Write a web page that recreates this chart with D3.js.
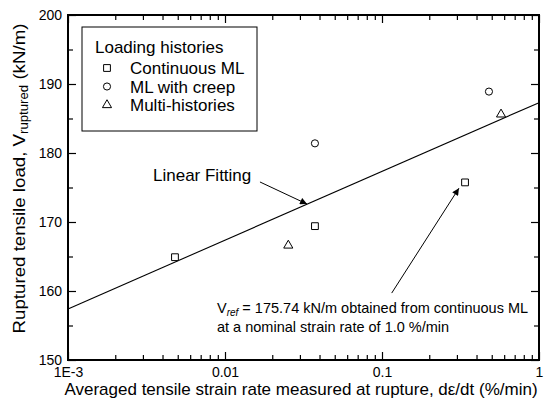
<!DOCTYPE html>
<html>
<head>
<meta charset="utf-8">
<script src="https://cdn.jsdelivr.net/npm/d3@7"></script>
<style>
  html, body { margin: 0; padding: 0; background: #fff; }
  svg { display: block; font-family: Arial, "Liberation Sans", Helvetica, sans-serif; }
</style>
</head>
<body>
<svg id="chart" width="544" height="412"></svg>
<script>
// Ruptured tensile load vs. averaged strain rate at rupture
const continuousRate = [0.0048, 0.0374, 0.338];
const continuousLoad = [164.9, 169.4, 175.74];
const creepRate = [0.0374, 0.48];
const creepLoad = [181.4, 188.9];
const multiRate = [0.0253, 0.573];
const multiLoad = [166.6, 185.6];

// straight-line fit (linear in log of rate)
const fitRate = [0.001, 1];
const fitLoad = [157.4, 187.3];

const xMajorTicks = [0.001, 0.01, 0.1, 1];
const xTickLabels = ["1E-3", "0.01", "0.1", "1"];
const yMajorTicks = [150, 160, 170, 180, 190, 200];
const yMinorTicks = [155, 165, 175, 185, 195];

const legendTitle = "Loading histories";
const legendLabels = ["Continuous ML", "ML with creep", "Multi-histories"];

const W = 544, H = 412;
const margin = { left: 68, right: 5, top: 15, bottom: 52 };

const svg = d3.select("#chart");

const x = d3.scaleLog().domain([0.001, 1]).range([margin.left, W - margin.right]);
const y = d3.scaleLinear().domain([150, 200]).range([H - margin.bottom, margin.top]);

// minor ticks of the log axis: 2..9 within each decade
const xMinorTicks = [];
for (let d = 0; d < 3; d++) {
  for (let m = 2; m <= 9; m++) xMinorTicks.push(m * Math.pow(10, -3 + d));
}

const major = 8, minor = 5;

function styleAxis(g) {
  g.select(".domain").remove();
  g.selectAll(".tick line").attr("stroke", "#000").attr("stroke-width", 1.2);
  g.selectAll(".tick text").attr("fill", "#000").style("font-size", "14px");
}

// bottom axis with labels
svg.append("g")
  .attr("transform", `translate(0,${y(150)})`)
  .call(d3.axisBottom(x).tickValues(xMajorTicks)
    .tickFormat((d, i) => xTickLabels[i]).tickSize(-major).tickPadding(7))
  .call(styleAxis);
svg.append("g")
  .attr("transform", `translate(0,${y(150)})`)
  .call(d3.axisBottom(x).tickValues(xMinorTicks).tickFormat("").tickSize(-minor))
  .call(styleAxis);
// top axis mirror
svg.append("g")
  .attr("transform", `translate(0,${y(200)})`)
  .call(d3.axisTop(x).tickValues(xMajorTicks).tickFormat("").tickSize(-major))
  .call(styleAxis);
svg.append("g")
  .attr("transform", `translate(0,${y(200)})`)
  .call(d3.axisTop(x).tickValues(xMinorTicks).tickFormat("").tickSize(-minor))
  .call(styleAxis);

// left axis with labels
svg.append("g")
  .attr("transform", `translate(${x(0.001)},0)`)
  .call(d3.axisLeft(y).tickValues(yMajorTicks).tickFormat(d3.format("d")).tickSize(-major).tickPadding(6))
  .call(styleAxis);
svg.append("g")
  .attr("transform", `translate(${x(0.001)},0)`)
  .call(d3.axisLeft(y).tickValues(yMinorTicks).tickFormat("").tickSize(-minor))
  .call(styleAxis);
// right axis mirror
svg.append("g")
  .attr("transform", `translate(${x(1)},0)`)
  .call(d3.axisRight(y).tickValues(yMajorTicks).tickFormat("").tickSize(-major))
  .call(styleAxis);
svg.append("g")
  .attr("transform", `translate(${x(1)},0)`)
  .call(d3.axisRight(y).tickValues(yMinorTicks).tickFormat("").tickSize(-minor))
  .call(styleAxis);

// plot frame
svg.append("rect")
  .attr("x", x(0.001)).attr("y", y(200))
  .attr("width", x(1) - x(0.001)).attr("height", y(150) - y(200))
  .attr("fill", "none").attr("stroke", "#000").attr("stroke-width", 2);

// fitted line
svg.append("path")
  .datum(fitRate.map((r, i) => [r, fitLoad[i]]))
  .attr("fill", "none").attr("stroke", "#000").attr("stroke-width", 1.1)
  .attr("d", d3.line().x(d => x(d[0])).y(d => y(d[1])));

// markers
const shapes = [
  { sym: d3.symbolSquare, size: 46, rate: continuousRate, load: continuousLoad },
  { sym: d3.symbolCircle, size: 40, rate: creepRate, load: creepLoad },
  { sym: d3.symbolTriangle, size: 36, rate: multiRate, load: multiLoad }
];
shapes.forEach(s => {
  svg.append("g").selectAll("path")
    .data(s.rate.map((r, i) => [r, s.load[i]]))
    .join("path")
    .attr("transform", d => `translate(${x(d[0])},${y(d[1])})`)
    .attr("d", d3.symbol(s.sym, s.size))
    .attr("fill", "#fff").attr("stroke", "#000").attr("stroke-width", 1);
});

// arrowhead
svg.append("defs").append("marker")
  .attr("id", "arrow").attr("viewBox", "0 0 10 10")
  .attr("refX", 10).attr("refY", 5)
  .attr("markerWidth", 10).attr("markerHeight", 7)
  .attr("markerUnits", "userSpaceOnUse")
  .attr("orient", "auto")
  .append("path").attr("d", "M0,0 L10,5 L0,10 Z").attr("fill", "#000");

// "Linear Fitting" callout
const fitArrow = [[0.0167, 175.8], [0.0333, 172.6]];
svg.append("line")
  .attr("x1", x(fitArrow[0][0])).attr("y1", y(fitArrow[0][1]))
  .attr("x2", x(fitArrow[1][0])).attr("y2", y(fitArrow[1][1]))
  .attr("stroke", "#000").attr("stroke-width", 1).attr("marker-end", "url(#arrow)");
svg.append("text")
  .attr("x", 153).attr("y", 181)
  .style("font-size", "17px").text("Linear Fitting");

// reference point callout
const refArrow = [[0.1153, 159.7], [0.309, 174.9]];
svg.append("line")
  .attr("x1", x(refArrow[0][0])).attr("y1", y(refArrow[0][1]))
  .attr("x2", x(refArrow[1][0])).attr("y2", y(refArrow[1][1]))
  .attr("stroke", "#000").attr("stroke-width", 1).attr("marker-end", "url(#arrow)");
const note = svg.append("text").attr("x", 217).attr("y", 313).style("font-size", "14.5px");
note.append("tspan").text("V");
note.append("tspan").attr("font-style", "italic").attr("font-size", "10px").attr("dy", 3).text("ref");
note.append("tspan").attr("dy", -3).text(" = " + continuousLoad[2].toFixed(2) + " kN/m obtained from continuous ML");
svg.append("text").attr("x", 217).attr("y", 332).style("font-size", "14.5px")
  .text("at a nominal strain rate of 1.0 %/min");

// legend
const lg = svg.append("g");
lg.append("rect").attr("x", 82).attr("y", 27).attr("width", 175).attr("height", 104)
  .attr("fill", "#fff").attr("stroke", "#000").attr("stroke-width", 1);
lg.append("text").attr("x", 95).attr("y", 53).style("font-size", "17px").text(legendTitle);
shapes.forEach((s, i) => {
  const base = 74 + i * 18.5;
  lg.append("path").attr("transform", `translate(107,${base - 6})`)
    .attr("d", d3.symbol(s.sym, s.size))
    .attr("fill", "#fff").attr("stroke", "#000").attr("stroke-width", 1);
  lg.append("text").attr("x", 130).attr("y", base).style("font-size", "17px").text(legendLabels[i]);
});

// axis titles
svg.append("text")
  .attr("x", 301).attr("y", 395)
  .attr("text-anchor", "middle").style("font-size", "17px")
  .text("Averaged tensile strain rate measured at rupture, dε/dt (%/min)");

const yt = svg.append("text")
  .attr("transform", `translate(25,178.5) rotate(-90) scale(1.1,1)`)
  .attr("text-anchor", "middle").style("font-size", "17px");
yt.append("tspan").text("Ruptured tensile load, V");
yt.append("tspan").attr("font-size", "12px").attr("dy", 3).text("ruptured");
yt.append("tspan").attr("dy", -3).text(" (kN/m)");
</script>
</body>
</html>
